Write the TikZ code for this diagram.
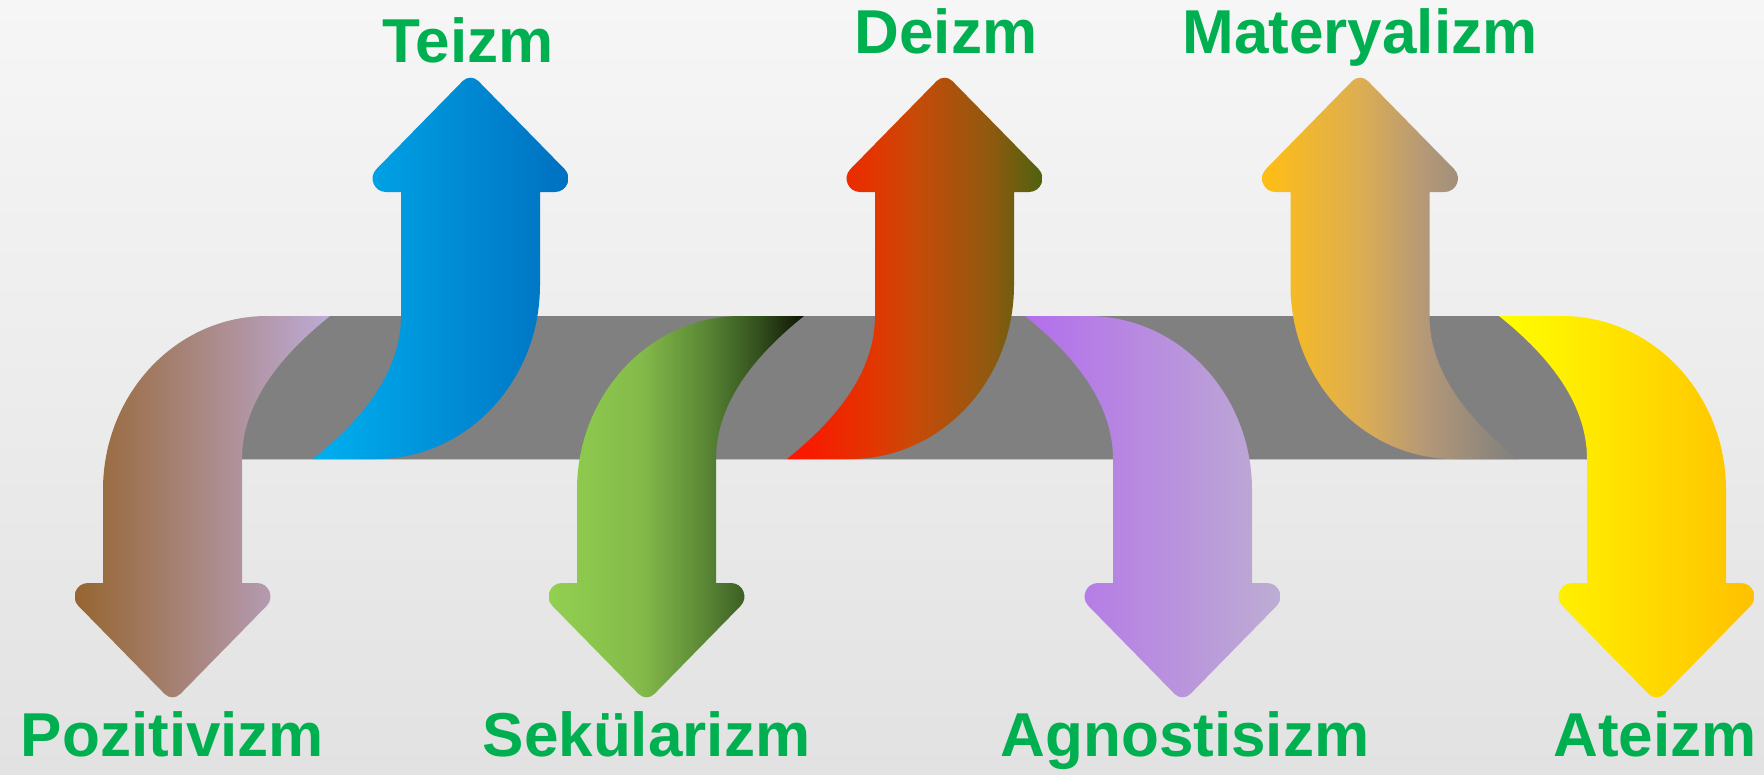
\documentclass[tikz,border=0pt]{standalone}
\usepackage{fontspec}
\setmainfont{Liberation Sans}
\definecolor{txtgreen}{HTML}{00B050}
\definecolor{bgtop}{HTML}{F6F6F6}
\definecolor{bgbot}{HTML}{E2E2E2}
\definecolor{bandgray}{HTML}{808080}
\definecolor{bandline}{HTML}{BEBEBE}
\definecolor{pos0}{HTML}{966530}
\definecolor{pos1}{HTML}{BDABD8}
\definecolor{blu0}{HTML}{00B0F0}
\definecolor{blu1}{HTML}{0070C0}
\definecolor{grn0}{HTML}{92D050}
\definecolor{grn1}{HTML}{84BA4A}
\definecolor{grn2}{HTML}{5C8A36}
\definecolor{grn3}{HTML}{33501E}
\definecolor{grn4}{HTML}{0C1406}
\definecolor{red0}{HTML}{FF1200}
\definecolor{red1}{HTML}{E23600}
\definecolor{red2}{HTML}{C84A08}
\definecolor{red3}{HTML}{8E5A10}
\definecolor{red4}{HTML}{4E620E}
\definecolor{pur0}{HTML}{B36EEB}
\definecolor{pur1}{HTML}{BDADD3}
\definecolor{mat0}{HTML}{FFBE14}
\definecolor{mat1}{HTML}{DDAE52}
\definecolor{mat2}{HTML}{B49878}
\definecolor{mat3}{HTML}{8D867C}
\definecolor{mat4}{HTML}{818080}
\definecolor{yel0}{HTML}{FFFF00}
\definecolor{yel1}{HTML}{FFC000}
\pgfdeclarehorizontalshading{posS}{100bp}{color(0bp)=(pos0); color(25bp)=(pos0); color(75bp)=(pos1); color(100bp)=(pos1)}
\pgfdeclarehorizontalshading{bluS}{100bp}{color(0bp)=(blu0); color(25bp)=(blu0); color(75bp)=(blu1); color(100bp)=(blu1)}
\pgfdeclarehorizontalshading{grnS}{100bp}{color(0bp)=(grn0); color(25bp)=(grn0); color(43bp)=(grn1); color(55bp)=(grn2); color(66bp)=(grn3); color(75bp)=(grn4); color(100bp)=(grn4)}
\pgfdeclarehorizontalshading{redS}{100bp}{color(0bp)=(red0); color(25bp)=(red0); color(42bp)=(red1); color(50bp)=(red2); color(65bp)=(red3); color(75bp)=(red4); color(100bp)=(red4)}
\pgfdeclarehorizontalshading{purS}{100bp}{color(0bp)=(pur0); color(25bp)=(pur0); color(75bp)=(pur1); color(100bp)=(pur1)}
\pgfdeclarehorizontalshading{matS}{100bp}{color(0bp)=(mat0); color(25bp)=(mat0); color(44bp)=(mat1); color(57bp)=(mat2); color(70bp)=(mat3); color(75bp)=(mat4); color(100bp)=(mat4)}
\pgfdeclarehorizontalshading{yelS}{100bp}{color(0bp)=(yel0); color(25bp)=(yel0); color(75bp)=(yel1); color(100bp)=(yel1)}
\newcommand\arwpath{(103,490) -- (103,583) -- (88,583) .. controls (76.1,583) and (70.1,597.4) .. (78.4,605.9) -- (164.7,694) .. controls (169,698.4) and (176,698.4) .. (180.3,694) -- (266.6,605.9) .. controls (274.9,597.4) and (268.9,583) .. (257,583) -- (242,583) -- (242,459) .. controls (242,400) and (285,352) .. (330,316) -- (267,316) .. controls (176.4,316) and (103,393.9) .. (103,490) -- cycle}
\tikzset{lbl/.style={font=\fontsize{62}{70}\selectfont\bfseries, text=txtgreen, inner sep=0pt, anchor=base}}
\begin{document}
\begin{tikzpicture}[x=1pt,y=-1pt]
\useasboundingbox (0,0) rectangle (1764,774);
\shade[top color=bgtop,bottom color=bgbot] (0,0) rectangle (1764,774);
\fill[bandgray] (272,316) -- (1557,316) -- (1588,342) -- (1588,459) -- (242,459) -- (242,342) -- cycle;
\draw[bandline, line width=1.5pt] (242,459.5) -- (1588,459.5);
% Pozitivizm
\begin{scope}\clip \arwpath; \shade[shading=posS] (75,300) rectangle (330,710); \end{scope}
% Sekularizm
\begin{scope}\clip[shift={(474,0)}] \arwpath; \shade[shading=grnS] (549,300) rectangle (804,710); \end{scope}
% Agnostisizm
\begin{scope}\clip[shift={(1355,0)},xscale=-1] \arwpath; \shade[shading=purS] (1025,300) rectangle (1280,710); \end{scope}
% Ateizm
\begin{scope}\clip[shift={(1829,0)},xscale=-1] \arwpath; \shade[shading=yelS] (1499,300) rectangle (1754,710); \end{scope}
% Teizm
\begin{scope}\clip[shift={(643,775)},scale=-1] \arwpath; \shade[shading=bluS] (313,60) rectangle (568,470); \end{scope}
% Deizm
\begin{scope}\clip[shift={(1117,775)},scale=-1] \arwpath; \shade[shading=redS] (787,60) rectangle (1042,470); \end{scope}
% Materyalizm
\begin{scope}\clip[shift={(1187.5,775)},yscale=-1] \arwpath; \shade[shading=matS] (1262.5,60) rectangle (1517.5,470); \end{scope}
% labels
\node[lbl] (teizm) at (468,62) {Teizm};
\node[lbl] (deizm) at (946,53) {Deizm};
\node[lbl] (mater) at (1360,53) {Materyalizm};
\node[lbl] (pozit) at (172.5,756) {Pozitivizm};
\node[lbl] (sekul) at (646.5,756) {Sekülarizm};
\node[lbl] (agnos) at (1185,756) {Agnostisizm};
\node[lbl] (ateiz) at (1655,756) {Ateizm};
\end{tikzpicture}
\end{document}
